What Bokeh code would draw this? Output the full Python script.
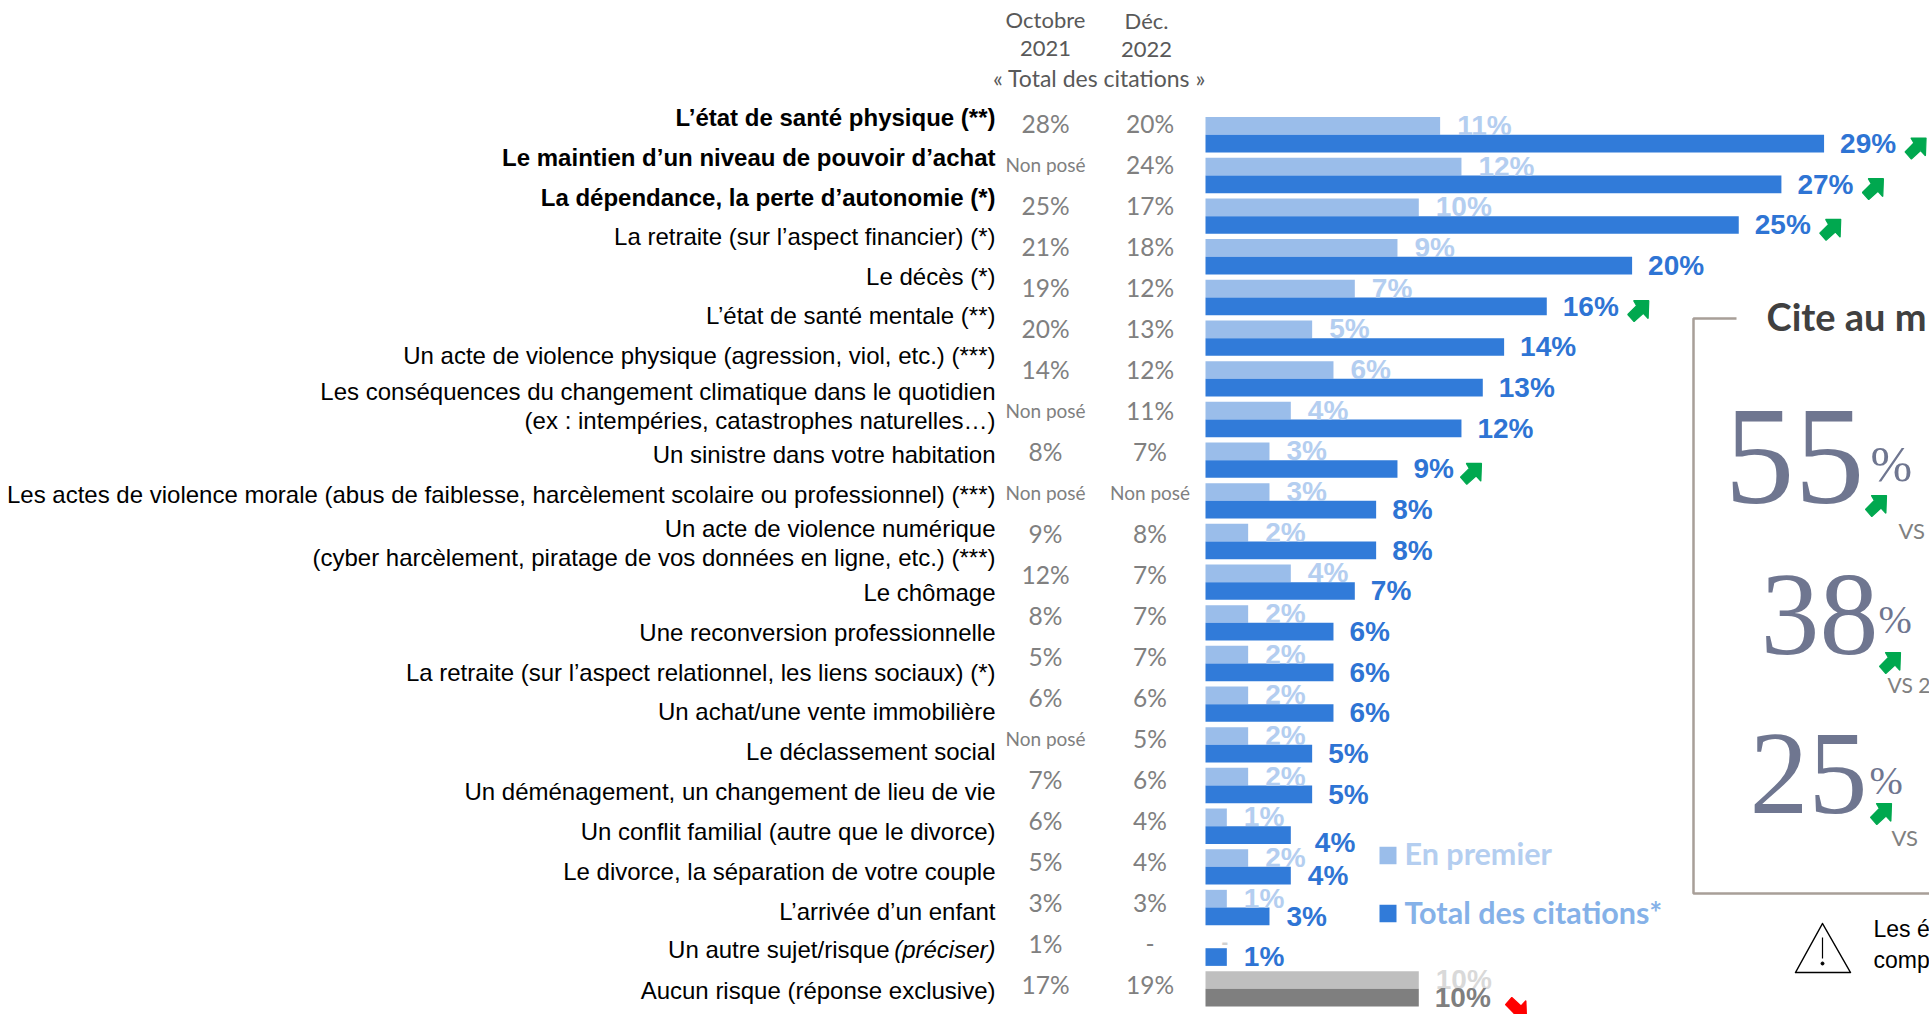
from bokeh.plotting import figure
from bokeh.models import Range1d
from bokeh.core.properties import value
from bokeh.embed import file_html
from bokeh.resources import INLINE

# ---------- data ----------
categories = [
    "L’état de santé physique (**)",
    "Le maintien d’un niveau de pouvoir d’achat",
    "La dépendance, la perte d’autonomie (*)",
    "La retraite (sur l’aspect financier) (*)",
    "Le décès (*)",
    "L’état de santé mentale (**)",
    "Un acte de violence physique (agression, viol, etc.) (***)",
    "Les conséquences du changement climatique dans le quotidien\n(ex : intempéries, catastrophes naturelles…)",
    "Un sinistre dans votre habitation",
    "Les actes de violence morale (abus de faiblesse, harcèlement scolaire ou professionnel) (***)",
    "Un acte de violence numérique\n(cyber harcèlement, piratage de vos données en ligne, etc.) (***)",
    "Le chômage",
    "Une reconversion professionnelle",
    "La retraite (sur l’aspect relationnel, les liens sociaux) (*)",
    "Un achat/une vente immobilière",
    "Le déclassement social",
    "Un déménagement, un changement de lieu de vie",
    "Un conflit familial (autre que le divorce)",
    "Le divorce, la séparation de votre couple",
    "L’arrivée d’un enfant",
    "Un autre sujet/risque",
    "Aucun risque (réponse exclusive)",
]
oct_2021 = ["28%", "Non posé", "25%", "21%", "19%", "20%", "14%", "Non posé", "8%", "Non posé", "9%",
            "12%", "8%", "5%", "6%", "Non posé", "7%", "6%", "5%", "3%", "1%", "17%"]
dec_2022 = ["20%", "24%", "17%", "18%", "12%", "13%", "12%", "11%", "7%", "Non posé", "8%",
            "7%", "7%", "7%", "6%", "5%", "6%", "4%", "4%", "3%", "-", "19%"]
en_premier = [11, 12, 10, 9, 7, 5, 6, 4, 3, 3, 2, 4, 2, 2, 2, 2, 2, 1, 2, 1, 0, 10]
total_citations = [29, 27, 25, 20, 16, 14, 13, 12, 9, 8, 8, 7, 6, 6, 6, 5, 5, 4, 4, 3, 1, 10]
hausse_rows = [0, 1, 2, 4, 8]
bold_rows = [0, 1, 2]

# ---------- layout (page pixels) ----------
OX, OY = 0, 0
W, H = 1929, 1014
X0, PPU = 1205.0, 21.33
Y0, ROW = 134.3, 40.67
n = len(categories)
rows = list(range(n))

def xd(px): return (px - X0) / PPU
def yd(py): return (py - Y0) / ROW

p = figure(width=W, height=H, output_backend="svg", toolbar_location=None,
           x_range=Range1d(xd(OX), xd(OX + W)), y_range=Range1d(yd(OY + H), yd(OY)),
           min_border=0, outline_line_color=None, background_fill_color="white")
p.axis.visible = False
p.grid.visible = False

DARK, LIGHT = "#317BD9", "#9ABDEA"
DARK_T, LIGHT_T = "#2E74D4", "#B4CEF0"
BAR_H = 0.435
SANS = value("Liberation Sans")
LATO = value("Lato")
SERIF = value("Liberation Serif")

def txt(x, y, t, size, color, font=SANS, align="left", style="normal", lh=1.2):
    p.text(x=[xd(x)], y=[yd(y)], text=[t], text_font=font, text_font_size=f"{size}px",
           text_color=color, text_align=align, text_baseline="middle", text_font_style=style,
           text_line_height=lh)

# bars
lc = [LIGHT] * (n - 1) + ["#BFBFBF"]
dc = [DARK] * (n - 1) + ["#7F7F7F"]
p.hbar(y=[r - BAR_H / 2 for r in rows], left=0, right=en_premier, height=BAR_H, fill_color=lc, line_color=None)
p.hbar(y=[r + BAR_H / 2 for r in rows], left=0, right=total_citations, height=BAR_H, fill_color=dc, line_color=None)

# value labels
for i in rows:
    if en_premier[i] > 0:
        txt(X0 + en_premier[i] * PPU + 17, 125 + i * ROW, f"{en_premier[i]}%", 28,
            LIGHT_T if i < n - 1 else "#D9D9D9", style="bold")
    else:
        txt(X0 + 16, 125.5 + i * ROW + 3, "-", 20, "#D0D0D0", style="bold")
dy_total = {17: 8}
for i in rows:
    extra = {17: 8, 18: 1, 19: 1, 20: 1}.get(i, 0)
    txt(X0 + total_citations[i] * PPU + 16 + extra, 143 + i * ROW + dy_total.get(i, 0),
        f"{total_citations[i]}%", 28, DARK_T if i < n - 1 else "#7F7F7F", style="bold")

# category labels
LABEL_Y = [118, 158, 198, 237, 277, 316, 356, 406.5, 455, 495, 544, 593, 633, 673, 712, 752, 792, 832, 872, 912, 950, 991]
for i in rows:
    right = 889 if i == 20 else 995
    txt(right, LABEL_Y[i] - 1.2, categories[i], 24, "#000000", align="right",
        style="bold" if i in bold_rows else "normal", lh=1.06)
txt(995, LABEL_Y[20] - 1.2, "(préciser)", 24, "#000000", align="right", style="italic")

# Oct/Dec columns
for i in rows:
    y = 123 + i * 41
    for xc, arr in ((1045, oct_2021), (1149.5, dec_2022)):
        s = arr[i]
        txt(xc, y, s, 19 if s == "Non posé" else 24.5, "#808080", LATO, "center")

# headers
HDR = "#595959"
txt(1045, 19, "Octobre", 22, HDR, LATO, "center")
txt(1045, 48, "2021", 22, HDR, LATO, "center")
txt(1146, 20, "Déc.", 22, HDR, LATO, "center")
txt(1146, 49, "2022", 22, HDR, LATO, "center")
txt(1099, 77, "« Total des citations »", 23, HDR, LATO, "center")

# arrows
UP = [(0.28, 0), (1, 0), (0.97, 0.85), (0.74, 0.6), (0.3, 1), (0, 0.66), (0.42, 0.24)]
def arrow(x, y, w=21, h=21, color="#00A84F", flip=False):
    xs = [xd(x + a * w) for a, b in UP]
    ys = [yd(y + (1 - b if flip else b) * h) for a, b in UP]
    p.patch(xs, ys, fill_color=color, line_color=color, line_width=1.2)

for i in hausse_rows:
    end = X0 + total_citations[i] * PPU
    arrow(end + (81 if total_citations[i] >= 10 else 63), 137.5 + i * ROW)
arrow(1505, 997, color="#FF0000", flip=True)

# legend
p.rect(x=[xd(1387.5)], y=[yd(855)], width=17 / PPU, height=17.5 / ROW, fill_color=LIGHT, line_color=None)
p.rect(x=[xd(1387.5)], y=[yd(913)], width=17 / PPU, height=17.5 / ROW, fill_color=DARK, line_color=None)
txt(1404, 852.5, "En premier", 30.5, "#B4CEF0", LATO, style="bold")
txt(1404, 911.5, "Total des citations*", 30.5, "#85B1E8", LATO, style="bold")

# right panel
BOX = "#A89F98"
p.line([xd(1736), xd(1693), xd(1693), xd(1935)], [yd(318), yd(318), yd(893), yd(893)], line_color=BOX, line_width=2.5)
txt(1766, 315, "Cite au m", 38, "#404040", LATO, style="bold")
NUM = "#6F7690"
txt(1724, 456, "55", 140, NUM, SERIF)
txt(1870, 463, "%", 50, NUM, SERIF)
arrow(1865, 495)
txt(1898, 530, "VS", 22, "#808080", LATO)
txt(1760, 614, "38", 118, NUM, SERIF)
txt(1878, 619, "%", 40, NUM, SERIF)
arrow(1879, 652)
txt(1887, 684, "VS 2", 21, "#808080", LATO)
txt(1749, 773, "25", 118, NUM, SERIF)
txt(1869, 780, "%", 40, NUM, SERIF)
arrow(1870, 803)
txt(1891, 837, "VS", 22, "#808080", LATO)

# warning
p.patch([xd(1822), xd(1795), xd(1850)], [yd(923), yd(972), yd(972)], fill_color=None, line_color="#000000", line_width=1.5, line_join="round")
p.line([xd(1822), xd(1822)], [yd(937), yd(958)], line_color="#000000", line_width=1.2)
p.scatter([xd(1822)], [yd(963)], size=3, color="#000000")
txt(1873, 928, "Les é", 23, "#000000")
txt(1873, 959, "comp", 23, "#000000")

open("out.html", "w").write(file_html(p, INLINE))
